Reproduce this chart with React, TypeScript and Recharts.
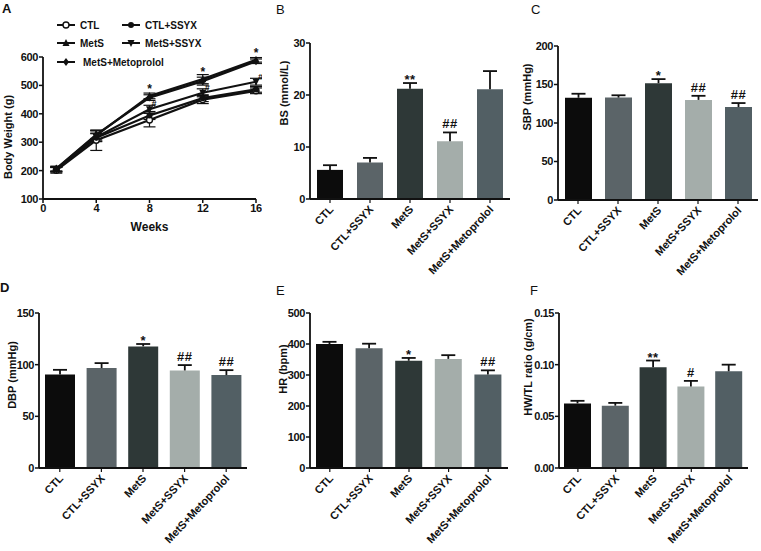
import React from "react";
import {
  LineChart,
  Line,
  BarChart,
  Bar,
  XAxis,
  YAxis,
  ErrorBar,
  LabelList,
  Cell,
  Legend,
} from "recharts";

const FONT = "'Liberation Sans', Arial, Helvetica, sans-serif";
const INK = "#111111";

// ---- A: body weight (g) by week ----
const weeks = [1, 4, 8, 12, 16];
const ctlWeight = [201, 307, 378, 450, 481];
const ctlWeightErr = [10, 36, 24, 14, 10];
const ctlSsyxWeight = [204, 316, 394, 455, 486];
const ctlSsyxWeightErr = [8, 14, 14, 12, 10];
const metsWeight = [206, 324, 463, 522, 590];
const metsWeightErr = [9, 16, 10, 16, 8];
const metsSsyxWeight = [203, 318, 416, 474, 513];
const metsSsyxWeightErr = [8, 14, 14, 14, 12];
const metsMetoWeight = [207, 327, 457, 515, 585];
const metsMetoWeightErr = [8, 14, 10, 14, 8];
const weightStars = ["", "", "*", "*", "*"];
const weightHashes = ["", "", "#", "#", "#"];

// ---- B-F: group bars ----
const groups = ["CTL", "CTL+SSYX", "MetS", "MetS+SSYX", "MetS+Metoprolol"];
const groupColors = ["#0c0c0c", "#5b6468", "#2e3837", "#a4adaa", "#525f64"];

const bsMean = [5.6, 7.0, 21.2, 11.1, 21.1];
const bsErr = [0.9, 0.9, 1.1, 1.7, 3.5];
const bsNote = ["", "", "**", "##", ""];

const sbpMean = [132.8, 133, 151.7, 130, 120.7];
const sbpErr = [5.2, 3, 5.3, 5.3, 5.2];
const sbpNote = ["", "", "*", "##", "##"];

const dbpMean = [90.5, 96.7, 117.7, 94.4, 89.9];
const dbpErr = [4.5, 4.8, 2.3, 5.2, 4.8];
const dbpNote = ["", "", "*", "##", "##"];

const hrMean = [400, 386, 346, 352, 302];
const hrErr = [7, 15, 9, 12, 13];
const hrNote = ["", "", "*", "", "##"];

const hwMean = [0.0625, 0.0603, 0.0975, 0.0788, 0.0936];
const hwErr = [0.0025, 0.0027, 0.0065, 0.0055, 0.0064];
const hwNote = ["", "", "**", "#", ""];

const weightData = weeks.map((w, i) => ({
  week: w,
  ctl: ctlWeight[i],
  ctlErr: ctlWeightErr[i],
  ctlSsyx: ctlSsyxWeight[i],
  ctlSsyxErr: ctlSsyxWeightErr[i],
  mets: metsWeight[i],
  metsErr: metsWeightErr[i],
  metsSsyx: metsSsyxWeight[i],
  metsSsyxErr: metsSsyxWeightErr[i],
  metsMeto: metsMetoWeight[i],
  metsMetoErr: metsMetoWeightErr[i],
  star: weightStars[i],
  hash: weightHashes[i],
}));

const makeRows = (mean: number[], err: number[], note: string[]) =>
  groups.map((g, i) => ({ group: g, mean: mean[i], err: err[i], note: note[i] }));

const markerKinds = ["circleOpen", "circle", "tri", "triDown", "diamond"];

function marker(kind: string, cx: number, cy: number, key?: any) {
  const r = 3;
  switch (kind) {
    case "circleOpen":
      return <circle key={key} cx={cx} cy={cy} r={r} fill="#fff" stroke={INK} strokeWidth={1.4} />;
    case "circle":
      return <circle key={key} cx={cx} cy={cy} r={r} fill={INK} />;
    case "tri":
      return <path key={key} d={`M${cx},${cy - r - 1}L${cx + r + 0.5},${cy + r}L${cx - r - 0.5},${cy + r}Z`} fill={INK} />;
    case "triDown":
      return <path key={key} d={`M${cx},${cy + r + 1}L${cx + r + 0.5},${cy - r}L${cx - r - 0.5},${cy - r}Z`} fill={INK} />;
    default:
      return <path key={key} d={`M${cx},${cy - r - 1}L${cx + r},${cy}L${cx},${cy + r + 1}L${cx - r},${cy}Z`} fill={INK} />;
  }
}

const makeDot = (kind: string) => (p: any) => {
  const { cx, cy, index } = p;
  if (cx == null || cy == null) return <g key={index} />;
  return marker(kind, cx, cy, index);
};

const legendSlots = [
  { x: 57, y: 25 },
  { x: 122, y: 25 },
  { x: 57, y: 43 },
  { x: 122, y: 43 },
  { x: 57, y: 62 },
];

const WeightLegend = (props: any) => (
  <div style={{ position: "relative", width: 262, height: 72 }}>
    {(props.payload || []).map((item: any) => {
      const i = groups.indexOf(item.value);
      const s = legendSlots[i];
      return (
        <div
          key={item.value}
          style={{ position: "absolute", left: s.x, top: s.y - 6, height: 12, display: "flex", alignItems: "center" }}
        >
          <svg width={18} height={12}>
            <line x1={0} x2={18} y1={6} y2={6} stroke={INK} strokeWidth={2} />
            {marker(markerKinds[i], 9, 6)}
          </svg>
          <span
            style={{
              marginLeft: i === 4 ? 8 : 5,
              fontFamily: FONT,
              fontWeight: 700,
              fontSize: 10,
              color: INK,
              whiteSpace: "nowrap",
            }}
          >
            {item.value}
          </span>
        </div>
      );
    })}
  </div>
);

const tickStyle = { fill: INK, fontSize: 11, fontWeight: 700, fontFamily: FONT, letterSpacing: -0.4 };

const CatTick = (props: any) => {
  const { x, y, payload } = props;
  const ax = x + 4;
  const ay = y + 7;
  return (
    <text
      x={ax}
      y={ay}
      transform={`rotate(-47 ${ax} ${ay})`}
      textAnchor="end"
      fill={INK}
      style={{ fontFamily: FONT, fontWeight: 700, fontSize: 11 }}
    >
      {payload.value}
    </text>
  );
};

const ErrCap = (props: any) => {
  const { x, y, width, height } = props;
  if (x == null || !height) return <g />;
  const cx = x + width / 2;
  return (
    <g>
      <line x1={cx} x2={cx} y1={y + height} y2={y} stroke={INK} strokeWidth={1.8} />
      <line x1={cx - 7} x2={cx + 7} y1={y} y2={y} stroke={INK} strokeWidth={1.8} />
    </g>
  );
};

const NoteLabel = (props: any) => {
  const { x, y, width, value } = props;
  if (!value) return null;
  const isStar = String(value).startsWith("*");
  return (
    <text
      x={x + width / 2}
      y={y - (isStar ? -1 : 4)}
      textAnchor="middle"
      fill={INK}
      style={{ fontFamily: FONT, fontWeight: 700, fontSize: 13, letterSpacing: 0.5 }}
    >
      {value}
    </text>
  );
};

const StarLabel = (props: any) => {
  const { x, y, value } = props;
  if (!value) return null;
  return (
    <text x={x} y={y - 3} textAnchor="middle" fill={INK} style={{ fontFamily: FONT, fontWeight: 700, fontSize: 12 }}>
      {value}
    </text>
  );
};

const HashLabel = (props: any) => {
  const { x, y, value } = props;
  if (!value) return null;
  return (
    <text x={x + 2} y={y - 2} textAnchor="start" fill={INK} style={{ fontFamily: FONT, fontWeight: 700, fontSize: 9 }}>
      {value}
    </text>
  );
};

// vertical axis title, centred on (cx, cy) in page pixels
const AxisTitle = ({ text, cx, cy }: { text: string; cx: number; cy: number }) => (
  <div
    style={{
      position: "absolute",
      left: cx,
      top: cy,
      transform: "translate(-50%, -50%) rotate(-90deg)",
      fontFamily: FONT,
      fontWeight: 700,
      fontSize: 11,
      lineHeight: "12px",
      color: INK,
      whiteSpace: "nowrap",
    }}
  >
    {text}
  </div>
);

interface BarPanelProps {
  left: number;
  top: number;
  width: number;
  height: number;
  margin: { top: number; right: number; left: number; bottom: number };
  yWidth: number;
  xHeight: number;
  rows: any[];
  domain: [number, number];
  ticks: number[];
  fmt?: (v: number) => string;
  barSize: number;
}

function BarPanel(p: BarPanelProps) {
  return (
    <div style={{ position: "absolute", left: p.left, top: p.top }}>
      <BarChart width={p.width} height={p.height} data={p.rows} margin={p.margin}>
        <XAxis
          dataKey="group"
          type="category"
          interval={0}
          height={p.xHeight}
          tick={<CatTick />}
          tickSize={4}
          tickMargin={0}
          axisLine={{ stroke: INK, strokeWidth: 1.8 }}
          tickLine={{ stroke: INK, strokeWidth: 1.2 }}
        />
        <YAxis
          type="number"
          width={p.yWidth}
          domain={p.domain}
          ticks={p.ticks}
          tickFormatter={p.fmt}
          tick={tickStyle}
          tickSize={4}
          tickMargin={1}
          axisLine={{ stroke: INK, strokeWidth: 1.8 }}
          tickLine={{ stroke: INK, strokeWidth: 1.5 }}
        />
        <Bar dataKey="mean" stackId="s" barSize={p.barSize} isAnimationActive={false}>
          {p.rows.map((r, i) => (
            <Cell key={r.group} fill={groupColors[i]} />
          ))}
        </Bar>
        <Bar dataKey="err" stackId="s" barSize={p.barSize} shape={ErrCap} isAnimationActive={false}>
          <LabelList dataKey="note" content={NoteLabel} />
        </Bar>
      </BarChart>
    </div>
  );
}

const panelLetter = (ch: string, x: number, y: number, bold: boolean) => (
  <div
    style={{
      position: "absolute",
      left: x,
      top: y,
      fontFamily: FONT,
      fontWeight: bold ? 700 : 400,
      fontSize: 13,
      lineHeight: "13px",
      color: INK,
    }}
  >
    {ch}
  </div>
);

export default function App() {
  const lines = [
    { key: "ctl", name: "CTL" },
    { key: "ctlSsyx", name: "CTL+SSYX" },
    { key: "mets", name: "MetS" },
    { key: "metsSsyx", name: "MetS+SSYX" },
    { key: "metsMeto", name: "MetS+Metoprolol" },
  ];

  return (
    <div style={{ position: "absolute", left: 0, top: 0, width: 761, height: 551, background: "#fff", overflow: "hidden" }}>
      {panelLetter("A", 2, 2, true)}
      {panelLetter("B", 276, 3, false)}
      {panelLetter("C", 531, 3, false)}
      {panelLetter("D", 0, 281, true)}
      {panelLetter("E", 276, 284, false)}
      {panelLetter("F", 530, 284, false)}

      <div style={{ position: "absolute", left: 0, top: 0 }}>
        <LineChart width={262} height={234} data={weightData} margin={{ top: 57, right: 6, left: 5, bottom: 0 }}>
          <XAxis
            dataKey="week"
            type="number"
            domain={[0, 16]}
            ticks={[0, 4, 8, 12, 16]}
            height={35}
            tick={tickStyle}
            tickSize={4}
            tickMargin={1}
            axisLine={{ stroke: INK, strokeWidth: 1.8 }}
            tickLine={{ stroke: INK, strokeWidth: 1.5 }}
            label={{
              value: "Weeks",
              position: "insideBottom",
              offset: 3,
              fill: INK,
              style: { fontFamily: FONT, fontWeight: 700, fontSize: 12 },
            }}
          />
          <YAxis
            type="number"
            width={38}
            domain={[100, 600]}
            ticks={[100, 200, 300, 400, 500, 600]}
            tick={tickStyle}
            tickSize={4}
            tickMargin={1}
            axisLine={{ stroke: INK, strokeWidth: 1.8 }}
            tickLine={{ stroke: INK, strokeWidth: 1.5 }}
          />
          <Legend
            layout="vertical"
            align="center"
            verticalAlign="middle"
            content={<WeightLegend />}
            wrapperStyle={{ position: "absolute", left: 0, top: 0, width: 262, height: 72 }}
          />
          {lines.map((l, i) => (
            <Line
              key={l.key}
              dataKey={l.key}
              name={l.name}
              stroke={INK}
              strokeWidth={2.2}
              dot={makeDot(markerKinds[i])}
              activeDot={false}
              isAnimationActive={false}
            >
              <ErrorBar dataKey={`${l.key}Err`} width={6} stroke={INK} strokeWidth={1.2} direction="y" />
              {l.key === "mets" && <LabelList dataKey="star" content={StarLabel} />}
              {l.key === "metsSsyx" && <LabelList dataKey="hash" content={HashLabel} />}
            </Line>
          ))}
        </LineChart>
      </div>

      <BarPanel
        left={250}
        top={0}
        width={262}
        height={280}
        margin={{ top: 43, right: 2, left: 15, bottom: 0 }}
        yWidth={45}
        xHeight={81}
        rows={makeRows(bsMean, bsErr, bsNote)}
        domain={[0, 30]}
        ticks={[0, 10, 20, 30]}
        barSize={26}
      />
      <BarPanel
        left={500}
        top={0}
        width={261}
        height={280}
        margin={{ top: 46, right: 3, left: 13, bottom: 0 }}
        yWidth={45}
        xHeight={80}
        rows={makeRows(sbpMean, sbpErr, sbpNote)}
        domain={[0, 200]}
        ticks={[0, 50, 100, 150, 200]}
        barSize={27}
      />
      <BarPanel
        left={0}
        top={280}
        width={250}
        height={271}
        margin={{ top: 33, right: 3, left: 0, bottom: 0 }}
        yWidth={39}
        xHeight={83}
        rows={makeRows(dbpMean, dbpErr, dbpNote)}
        domain={[0, 150]}
        ticks={[0, 50, 100, 150]}
        barSize={30}
      />
      <BarPanel
        left={250}
        top={280}
        width={262}
        height={271}
        margin={{ top: 33, right: 4, left: 15, bottom: 0 }}
        yWidth={45}
        xHeight={83}
        rows={makeRows(hrMean, hrErr, hrNote)}
        domain={[0, 500]}
        ticks={[0, 100, 200, 300, 400, 500]}
        barSize={27}
      />
      <BarPanel
        left={500}
        top={280}
        width={261}
        height={271}
        margin={{ top: 33, right: 13, left: 14, bottom: 0 }}
        yWidth={45}
        xHeight={83}
        rows={makeRows(hwMean, hwErr, hwNote)}
        domain={[0, 0.15]}
        ticks={[0, 0.05, 0.1, 0.15]}
        fmt={(v: number) => v.toFixed(2)}
        barSize={27}
      />

      <AxisTitle text="Body Weight (g)" cx={8} cy={137} />
      <AxisTitle text="BS (mmol/L)" cx={284} cy={93} />
      <AxisTitle text="SBP (mmHg)" cx={527} cy={97} />
      <AxisTitle text="DBP (mmHg)" cx={12} cy={375} />
      <AxisTitle text="HR (bpm)" cx={283} cy={369} />
      <AxisTitle text="HW/TL ratio (g/cm)" cx={528} cy={367} />
    </div>
  );
}
